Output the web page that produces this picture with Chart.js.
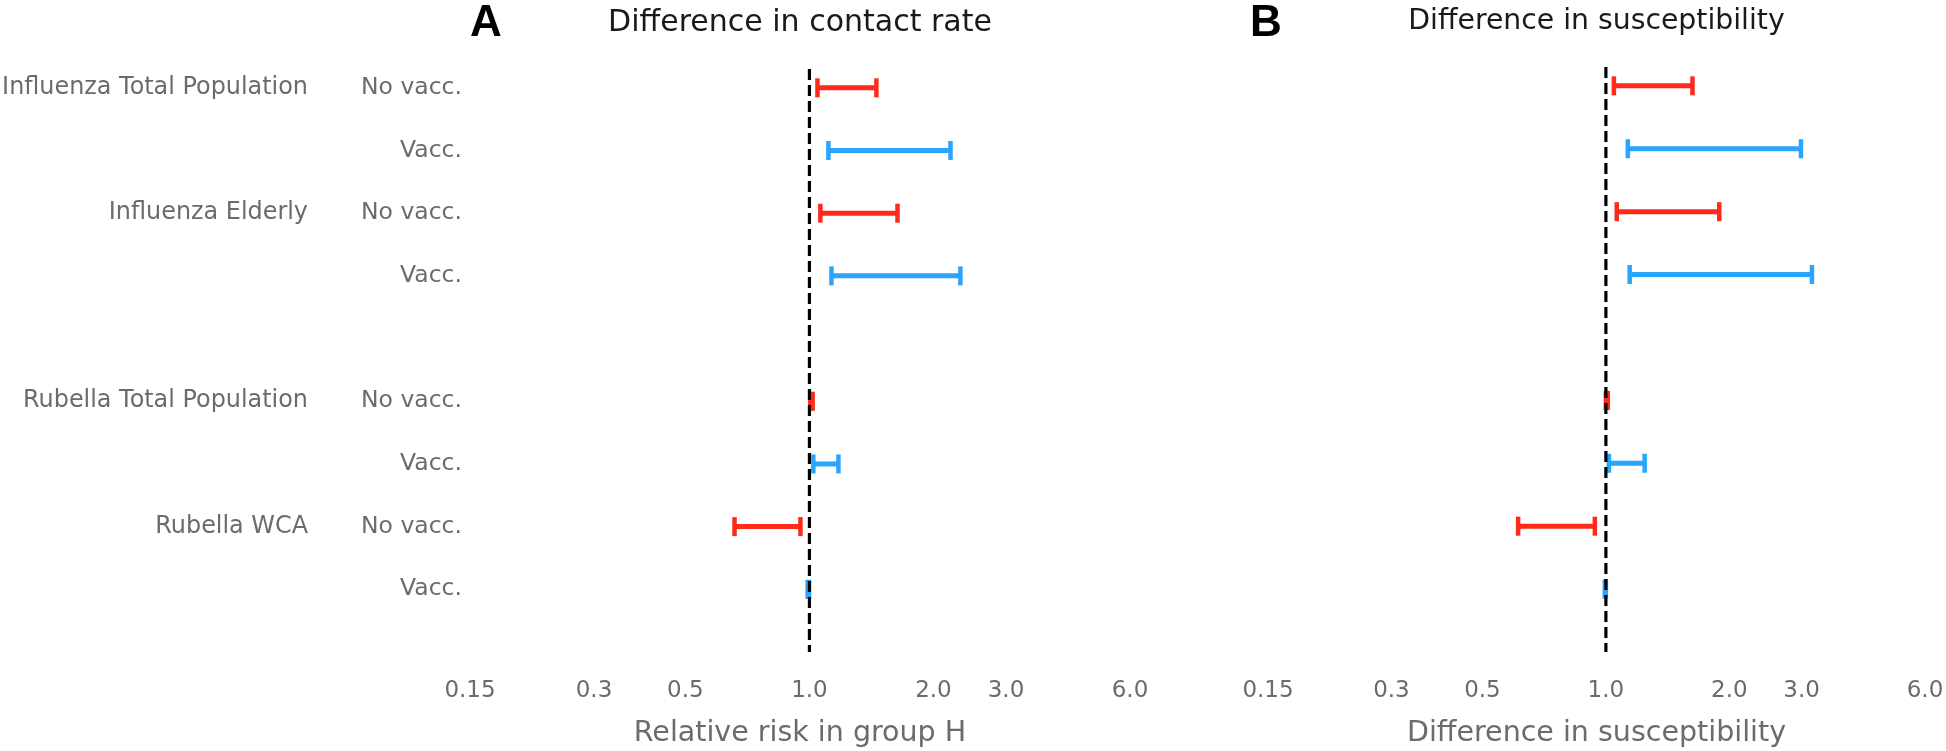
<!DOCTYPE html>
<html>
<head>
<meta charset="utf-8">
<script src="https://cdn.jsdelivr.net/npm/chart.js@4.4.1/dist/chart.umd.min.js"></script>
<style>
  html, body { margin: 0; padding: 0; background: #fff; }
  body { width: 1946px; height: 751px; position: relative; overflow: hidden; }
  .panel { position: absolute; top: 0; height: 751px; }
  #boxA { left: 0; width: 1180px; }
  #boxB { left: 1180px; width: 766px; }
</style>
</head>
<body>
<div class="panel" id="boxA"><canvas id="chartA"></canvas></div>
<div class="panel" id="boxB"><canvas id="chartB"></canvas></div>
<script>
// rows (top to bottom), row 4 is left empty as a spacer
const rowPositions = [0, 1, 2, 3, 5, 6, 7, 8];
const subLabels = ['No vacc.', 'Vacc.', 'No vacc.', 'Vacc.', 'No vacc.', 'Vacc.', 'No vacc.', 'Vacc.'];
const groupRows = [0, 2, 5, 7];
const groupLabels = ['Influenza Total Population', 'Influenza Elderly', 'Rubella Total Population', 'Rubella WCA'];

// panel A: difference in contact rate (relative risk in group H)
const contactLow  = [1.046, 1.112, 1.063, 1.131, 1.005, 1.022, 0.658, 0.990];
const contactHigh = [1.454, 2.200, 1.636, 2.325, 1.018, 1.176, 0.951, 0.998];

// panel B: difference in susceptibility
const suscLow  = [1.046, 1.131, 1.063, 1.143, 1.000, 1.017, 0.611, 0.994];
const suscHigh = [1.626, 2.990, 1.890, 3.180, 1.011, 1.243, 0.940, 1.000];

const tickValues = [0.15, 0.3, 0.5, 1.0, 2.0, 3.0, 6.0];
const tickLabels = ['0.15', '0.3', '0.5', '1.0', '2.0', '3.0', '6.0'];

const RED = '#ff2a1a';
const BLUE = '#2aa5ff';
const GREY = '#6b6b6b';

Chart.defaults.font.family = '"DejaVu Sans", sans-serif';
Chart.defaults.font.size = 23;

// bold panel letter (A / B) drawn on the canvas
const panelLetter = {
    id: 'panelLetter',
    afterDraw(chart, args, opts) {
        const ctx = chart.ctx;
        ctx.save();
        ctx.font = 'bold 44px "Liberation Sans", Arial, sans-serif';
        ctx.fillStyle = '#000';
        ctx.textAlign = 'left';
        ctx.textBaseline = 'alphabetic';
        ctx.fillText(opts.text, opts.x, opts.y);
        ctx.restore();
    }
};

function buildDatasets(low, high) {
    // the reference line at 1 goes first so it is drawn on top
    const sets = [{
        data: [{ x: 1, y: -0.3 }, { x: 1, y: 9 }],
        showLine: true,
        borderColor: '#000',
        borderWidth: 3.2,
        borderDash: [11, 5],
        pointRadius: 0
    }];
    rowPositions.forEach((row, i) => {
        const color = subLabels[i] === 'Vacc.' ? BLUE : RED;
        sets.push({
            data: [{ x: low[i], y: row }, { x: high[i], y: row }],
            showLine: true,
            borderColor: color,
            borderWidth: 5,
            borderCapStyle: 'butt',
            pointStyle: 'line',
            pointRotation: 90,
            pointRadius: 9.5,
            pointHoverRadius: 9.5,
            pointBorderWidth: 4.5,
            pointBorderColor: color
        });
    });
    return sets;
}

function xScale(titleText) {
    return {
        type: 'logarithmic',
        min: 0.15,
        max: 6,
        grid: { display: false, drawTicks: false },
        border: { display: false },
        afterBuildTicks: s => { s.ticks = tickValues.map(v => ({ value: v })); },
        afterFit: s => { s.paddingLeft = 0; s.paddingRight = 0; s.height = 99; },
        ticks: {
            autoSkip: false,
            maxRotation: 0,
            padding: 25,
            color: GREY,
            font: { size: 23 },
            callback: (v, i) => tickLabels[i]
        },
        title: {
            display: true,
            text: titleText,
            color: GREY,
            font: { size: 28.5 },
            padding: { top: 1, bottom: 0 }
        }
    };
}

function yScale(show, rows, labels, width, weight, pad, size) {
    return {
        type: 'linear',
        display: show,
        min: -0.3,
        max: 9,
        reverse: true,
        weight: weight,
        grid: { display: false, drawTicks: false },
        border: { display: false },
        afterBuildTicks: s => { s.ticks = rows.map(v => ({ value: v })); },
        afterFit: s => { s.width = width; },
        ticks: {
            autoSkip: false,
            padding: pad,
            color: GREY,
            font: { size: size },
            callback: (v, i) => labels[i]
        }
    };
}

function makeChart(id, low, high, title, titleSize, axisTitle, letter, withLabels, pad) {
    const scales = { x: xScale(axisTitle) };
    if (withLabels) {
        scales.y = yScale(true, rowPositions, subLabels, 160, 0, 8, 23.5);
        scales.yg = yScale(true, groupRows, groupLabels, 310, 1, 2, 23.9);
    } else {
        scales.y = yScale(false, rowPositions, subLabels, 0, 0, 0, 23);
    }
    return new Chart(document.getElementById(id), {
        type: 'scatter',
        data: { datasets: buildDatasets(low, high) },
        plugins: [panelLetter],
        options: {
            responsive: true,
            maintainAspectRatio: false,
            animation: false,
            layout: { padding: pad },
            scales: scales,
            plugins: {
                legend: { display: false },
                tooltip: { enabled: false },
                title: {
                    display: true,
                    fullSize: false,
                    text: title,
                    color: '#1a1a1a',
                    font: { size: titleSize, weight: 'normal' },
                    padding: { top: 5, bottom: 28 }
                },
                panelLetter: letter
            }
        }
    });
}

makeChart('chartA', contactLow, contactHigh, 'Difference in contact rate', 30, 'Relative risk in group H',
    { text: 'A', x: 470, y: 36 }, true, { left: 0, right: 50, top: 0, bottom: 0 });
makeChart('chartB', suscLow, suscHigh, 'Difference in susceptibility', 28.3, 'Difference in susceptibility',
    { text: 'B', x: 70, y: 36 }, false, { left: 88, right: 21, top: 0, bottom: 0 });
</script>
</body>
</html>
